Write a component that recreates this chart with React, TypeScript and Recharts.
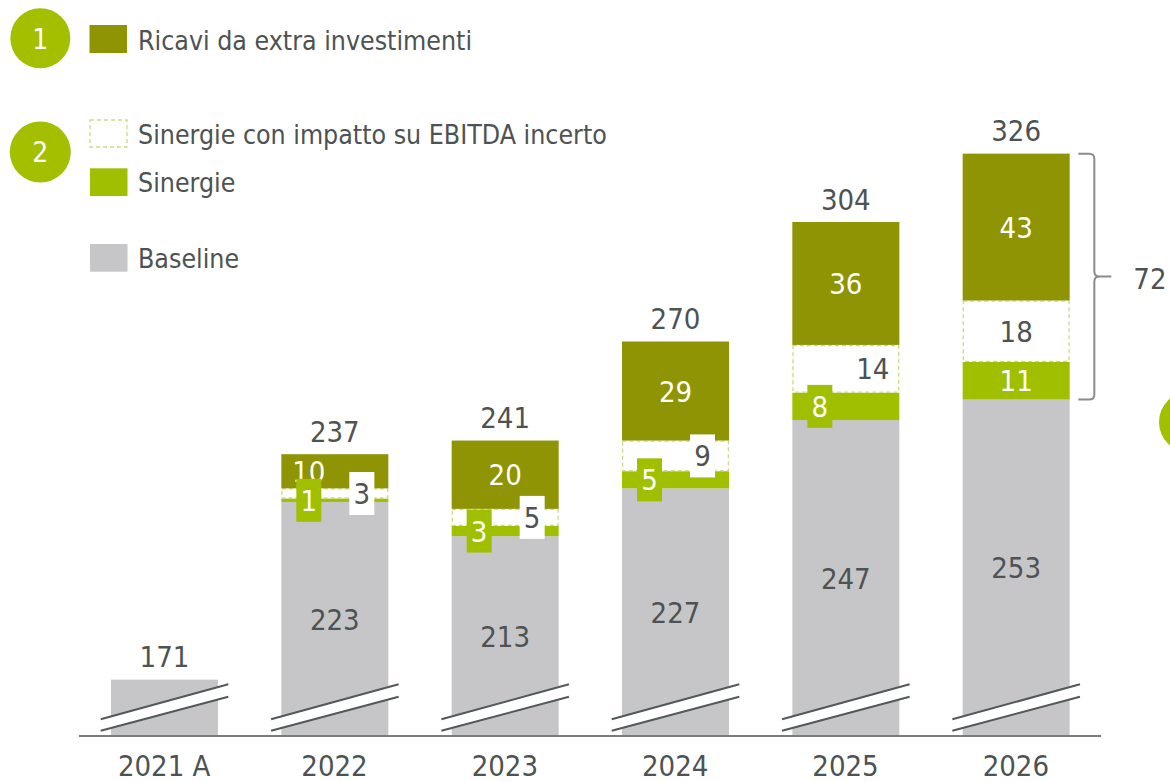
import React from 'react';
import { ComposedChart, Bar, XAxis, YAxis, ReferenceArea } from 'recharts';

// ---------- data ----------
const YEARS = ['2021 A', '2022', '2023', '2024', '2025', '2026'];
const BASELINE = [171, 223, 213, 227, 247, 253];
const SINERGIE = [null, 1, 3, 5, 8, 11];
const INCERTE = [null, 3, 5, 9, 14, 18];
const EXTRA = [null, 10, 20, 29, 36, 43];
const TOTALS = [171, 237, 241, 270, 304, 326];
const LEGEND_LABELS = [
  'Ricavi da extra investimenti',
  'Sinergie con impatto su EBITDA incerto',
  'Sinergie',
  'Baseline',
];
const BADGES = ['1', '2'];

const Y_MIN = 154.5;
const Y_MAX = 340.7;

// ---------- style ----------
const FONT = "'DejaVu Sans Condensed', 'DejaVu Sans', sans-serif";
const TXT = '#4d5253';
const OLIVE = '#8f9404';
const GREEN = '#a0bf00';
const GREY = '#c6c6c8';
const DASH = '#c9db86';
const BADGE = '#a3bf00';
const FS = 29;
const OFF = 0.365 * FS;

const data = YEARS.map((year, i) => ({
  year,
  baseline: BASELINE[i],
  sinergie: SINERGIE[i],
  incerte: INCERTE[i],
  extra: EXTRA[i],
  total: TOTALS[i],
}));

const last = data.length - 1;
const bracketSum = (SINERGIE[last] || 0) + (INCERTE[last] || 0) + (EXTRA[last] || 0);

const txtProps = { fontFamily: FONT, fontSize: FS, textAnchor: 'middle' as const };

const BaselineShape = (props: any) => {
  const { x, y, width, height, background, payload } = props;
  const bottom = background && background.height ? background.y + background.height : y + height;
  const h = Math.max(0, bottom - y);
  const l = x - 10.3;
  const r = x + width + 10.3;
  const up0 = bottom - 16.7, up1 = bottom - 51.7;
  const lo0 = bottom - 5.3, lo1 = bottom - 39.3;
  return (
    <g>
      <rect x={x} y={y} width={width} height={h} fill={GREY} />
      <polygon points={`${l},${up0} ${r},${up1} ${r},${lo1} ${l},${lo0}`} fill="#ffffff" />
      <line x1={l} y1={up0} x2={r} y2={up1} stroke="#535859" strokeWidth={2} />
      <line x1={l} y1={lo0} x2={r} y2={lo1} stroke="#535859" strokeWidth={2} />
      {payload.extra == null && (
        <text {...txtProps} x={x + width / 2} y={y - 23 + OFF} fill={TXT}>
          {payload.total}
        </text>
      )}
    </g>
  );
};

const SinergieShape = (props: any) => {
  const { x, y, width, height, payload } = props;
  if (!payload.sinergie) return <g />;
  return <rect x={x} y={y} width={width} height={height} fill={GREEN} />;
};

const IncerteShape = (props: any) => {
  const { x, y, width, height, payload } = props;
  if (!payload.incerte) return <g />;
  return (
    <rect
      x={x + 0.6}
      y={y + 0.6}
      width={width - 1.2}
      height={height - 1.2}
      fill="#ffffff"
      stroke={DASH}
      strokeWidth={1.3}
      strokeDasharray="4 3"
    />
  );
};

const ExtraShape = (props: any) => {
  const { x, y, width, height, payload } = props;
  if (!payload.extra) return <g />;
  const ppu = height / payload.extra;
  const cx = x + width / 2;
  const yE = y + height;
  const yI = yE + payload.incerte * ppu;
  const yS = yI + payload.sinergie * ppu;
  const bottom = yS + (payload.baseline - Y_MIN) * ppu;
  const synBoxed = payload.sinergie * ppu < 30;
  const extraSmall = height < 40;
  const incStr = String(payload.incerte);
  const bw = incStr.length > 1 ? 41 : 25;
  const incX = synBoxed ? x + 80.5 : cx;
  const incC = (yE + yI) / 2;
  const synC = (yI + yS) / 2;
  return (
    <g>
      <rect x={x} y={y} width={width} height={height} fill={OLIVE} />
      <text {...txtProps} x={extraSmall ? x + 27.5 : cx} y={(y + yE) / 2 + OFF} fill="#ffffff">
        {payload.extra}
      </text>
      {synBoxed && <rect x={incX - bw / 2} y={incC - 21.5} width={bw} height={43} fill="#ffffff" />}
      <text {...txtProps} x={incX} y={incC + OFF} fill={TXT}>
        {payload.incerte}
      </text>
      {synBoxed && <rect x={x + 15} y={synC - 21.5} width={25} height={43} fill={GREEN} />}
      <text {...txtProps} x={synBoxed ? x + 27.5 : cx} y={synC + OFF} fill="#ffffff">
        {payload.sinergie}
      </text>
      <text {...txtProps} x={cx} y={(yS + bottom) / 2 + OFF} fill={TXT}>
        {payload.baseline}
      </text>
      <text {...txtProps} x={cx} y={y - 23 + OFF} fill={TXT}>
        {payload.total}
      </text>
    </g>
  );
};

const BracketShape = (props: any) => {
  const { x, y, width, height } = props;
  const cx = x + width / 2;
  const top = y;
  const bot = y + height;
  const mid = (top + bot) / 2;
  const a = cx + 62.5;
  const v = cx + 78.5;
  const tip = cx + 95.5;
  const d = `M ${a} ${top} H ${v - 5} Q ${v} ${top} ${v} ${top + 5} V ${mid - 5} Q ${v} ${mid} ${v + 5} ${mid} H ${tip} M ${v + 5} ${mid} Q ${v} ${mid} ${v} ${mid + 5} V ${bot - 5} Q ${v} ${bot} ${v - 5} ${bot} H ${a}`;
  return (
    <g>
      <path d={d} fill="none" stroke="#8a8c8c" strokeWidth={2} />
      <text fontFamily={FONT} fontSize={FS} x={cx + 117.5} y={mid + 2 + OFF} fill={TXT} textAnchor="start">
        {bracketSum}
      </text>
    </g>
  );
};

const Legend = () => {
  const legendText = { fontFamily: FONT, fontSize: 26.5, fill: TXT };
  return (
    <svg
      width={1170}
      height={782}
      style={{ position: 'absolute', left: 0, top: 0, pointerEvents: 'none' }}
    >
      <circle cx={40.3} cy={38.3} r={30} fill={BADGE} />
      <text x={40.3} y={38.3 + 0.365 * 28} fontFamily={FONT} fontSize={28} fill="#ffffff" textAnchor="middle">
        {BADGES[0]}
      </text>
      <circle cx={40.3} cy={152} r={30.5} fill={BADGE} />
      <text x={40.3} y={152 + 0.365 * 28} fontFamily={FONT} fontSize={28} fill="#ffffff" textAnchor="middle">
        {BADGES[1]}
      </text>
      <circle cx={1189.5} cy={422} r={30.5} fill={BADGE} />

      <rect x={89.5} y={25} width={37.5} height={28} fill={OLIVE} />
      <text x={138} y={50} {...legendText}>{LEGEND_LABELS[0]}</text>

      <rect x={90} y={120} width={37} height={27} fill="#ffffff" stroke={DASH} strokeWidth={1.3} strokeDasharray="4 3" />
      <text x={138} y={143.5} {...legendText}>{LEGEND_LABELS[1]}</text>

      <rect x={90} y={168.3} width={37.5} height={27.7} fill={GREEN} />
      <text x={138} y={191.7} {...legendText}>{LEGEND_LABELS[2]}</text>

      <rect x={90} y={244} width={37.5} height={27.7} fill={GREY} />
      <text x={138} y={268.3} {...legendText}>{LEGEND_LABELS[3]}</text>
    </svg>
  );
};

export default function App() {
  return (
    <div style={{ position: 'absolute', left: 0, top: 0, width: 1170, height: 782, background: '#fff' }}>
      <ComposedChart
        width={1170}
        height={782}
        data={data}
        margin={{ top: 100, right: 69, bottom: 0, left: 79 }}
      >
        <XAxis
          dataKey="year"
          height={46}
          tickLine={false}
          tickSize={0}
          tickMargin={19}
          axisLine={{ stroke: '#7a7c7c', strokeWidth: 2 }}
          tick={{ fontSize: FS, fill: TXT, fontFamily: FONT }}
          interval={0}
        />
        <YAxis hide type="number" domain={[Y_MIN, Y_MAX]} allowDataOverflow />
        <Bar dataKey="baseline" stackId="a" barSize={107} shape={BaselineShape} isAnimationActive={false} />
        <Bar dataKey="sinergie" stackId="a" barSize={107} shape={SinergieShape} isAnimationActive={false} />
        <Bar dataKey="incerte" stackId="a" barSize={107} shape={IncerteShape} isAnimationActive={false} />
        <Bar dataKey="extra" stackId="a" barSize={107} shape={ExtraShape} isAnimationActive={false} />
        <ReferenceArea
          x1={YEARS[last]}
          x2={YEARS[last]}
          y1={BASELINE[last]}
          y2={BASELINE[last] + bracketSum}
          ifOverflow="visible"
          shape={BracketShape}
        />
      </ComposedChart>
      <Legend />
    </div>
  );
}
